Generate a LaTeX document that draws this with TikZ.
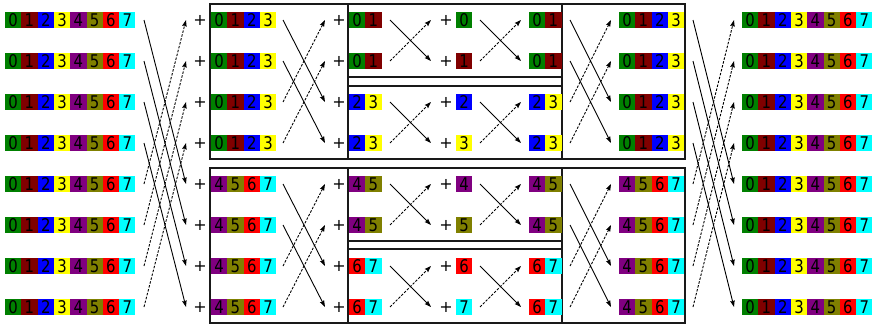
\documentclass[tikz,border=0pt]{standalone}
\usepackage{fontspec}
\setmainfont{DejaVu Sans}
\newfontfamily\cellfont{DejaVu Sans}[FakeStretch=0.85]
\usetikzlibrary{arrows.meta}
\definecolor{c0}{RGB}{0,128,0}
\definecolor{c1}{RGB}{128,0,0}
\definecolor{c2}{RGB}{0,0,255}
\definecolor{c3}{RGB}{255,255,0}
\definecolor{c4}{RGB}{128,0,128}
\definecolor{c5}{RGB}{128,128,0}
\definecolor{c6}{RGB}{255,0,0}
\definecolor{c7}{RGB}{0,255,255}
\newcommand\cellrow[5]{%
  \foreach \kk in {1,...,#5} {
    \pgfmathtruncatemacro\dd{#4+\kk-1}
    \node[cell, fill=c\dd] (#1-\dd) at ({#2+(\kk-1)*16.3}, #3) {\dd};
  }}
\begin{document}
\begin{tikzpicture}[x=1pt,y=-1pt,
  cell/.style={minimum width=16.3pt, minimum height=16.5pt, inner sep=0pt, outer sep=0pt,
    font=\cellfont\fontsize{17.5}{17.5}\selectfont, anchor=west},
  plus/.style={inner sep=0pt, font=\fontsize{16}{16}\selectfont},
  boxline/.style={draw=black!90, line width=1.5pt},
  solidarr/.style={line width=0.9pt, -{Stealth[length=6.5pt,width=4.5pt,inset=0.8pt]}},
  dasharr/.style={line width=0.9pt, dash pattern=on 2.5pt off 1.5pt, -{Stealth[length=6.5pt,width=4.5pt,inset=0.8pt]}}]
\useasboundingbox (0,0) rectangle (878,324);
% boxes
\foreach \t/\m/\b in {4/77/86, 168/241/249} {
  \pgfmathsetmacro\bb{\t+155}
  \draw[boxline] (210,\t) rectangle (685,\bb);
  \draw[boxline] (348,\t) rectangle (562,\bb);
  \draw[boxline] (348,\t) rectangle (562,\m);
  \draw[boxline] (348,\b) rectangle (562,\bb);
}
% cells
\foreach \r in {1,...,8} {
  \pgfmathsetmacro\yy{20+41*(\r-1)}
  \pgfmathtruncatemacro\fq{4*floor((\r-1)/4)}
  \pgfmathtruncatemacro\fh{2*floor((\r-1)/2)}
  \pgfmathtruncatemacro\fs{\r-1}
  \cellrow{a\r}{5}{\yy}{0}{8}
  \cellrow{b\r}{211}{\yy}{\fq}{4}
  \cellrow{c\r}{349}{\yy}{\fh}{2}
  \cellrow{d\r}{456}{\yy}{\fs}{1}
  \cellrow{e\r}{529}{\yy}{\fh}{2}
  \cellrow{f\r}{619}{\yy}{\fq}{4}
  \cellrow{g\r}{742}{\yy}{0}{8}
  \node[plus] (pb\r) at (200,\yy) {+};
  \node[plus] (pc\r) at (339,\yy) {+};
  \node[plus] (pd\r) at (446,\yy) {+};
}
% arrows
\foreach \s/\xs/\xe/\d in {1/144/186/4, 2/283/325/2, 3/390/431/1, 4/480/521/1, 5/570/611/2, 6/693/734/4} {
  \foreach \r in {1,...,8} {
    \pgfmathsetmacro\yy{20+41*(\r-1)}
    \coordinate (s\s-a\r) at (\xs,\yy);
    \coordinate (s\s-b\r) at (\xe,\yy);
  }
  \foreach \r in {1,...,8} {
    \pgfmathtruncatemacro\p{mod(\r-1,2*\d)}
    \ifnum\p<\d\relax
      \pgfmathtruncatemacro\t{\r+\d}
      \draw[solidarr] (s\s-a\r) -- (s\s-b\t);
    \else
      \pgfmathtruncatemacro\t{\r-\d}
      \draw[dasharr] (s\s-a\r) -- (s\s-b\t);
    \fi
  }
}
\end{tikzpicture}
\end{document}
